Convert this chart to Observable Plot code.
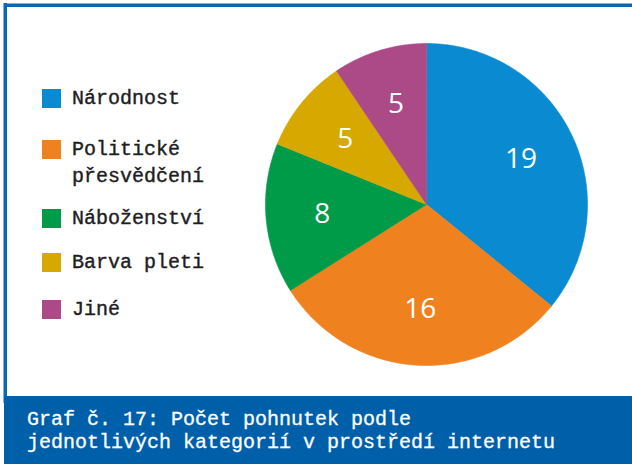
<!DOCTYPE html>
<html>
<head>
<meta charset="utf-8">
<script src="https://cdn.jsdelivr.net/npm/d3@7"></script>
<script src="https://cdn.jsdelivr.net/npm/@observablehq/plot@0.6"></script>
<style>
  html, body { margin: 0; padding: 0; background: #fff; }
  #wrap { position: relative; width: 632px; height: 464px; overflow: hidden; background: #fff; }
  #topline { position: absolute; left: 4px; top: 3px; width: 628px; height: 4px; background: #0b67b4; border-top: 1px solid #7fb1dc; box-sizing: border-box; }
  #leftline { position: absolute; left: 3px; top: 3px; width: 4px; height: 400px; background: #0b67b4; border-left: 1px solid #7fb1dc; box-sizing: border-box; }
  #chart { position: absolute; left: 0; top: 0; }
  #legend { position: absolute; left: 0; top: 0; font-family: "Liberation Mono", monospace; font-size: 20px; color: #1e1e1e; -webkit-text-stroke: 0.4px #1e1e1e; }
  .item { position: absolute; left: 42px; }
  .sw { position: absolute; left: 0; width: 19px; height: 19px; }
  .lab { position: absolute; left: 30px; white-space: pre; line-height: 27px; }
  #band { position: absolute; left: 4px; top: 396px; width: 628px; height: 68px; background: #005fa9; }
  #caption { position: absolute; left: 27px; top: 408px; font-family: "Liberation Mono", monospace; font-size: 20px; line-height: 23px; color: #fff; white-space: pre; -webkit-text-stroke: 0.3px #fff; }
</style>
</head>
<body>
<div id="wrap">
  <div id="topline"></div>
  <div id="leftline"></div>
  <div id="band"></div>
  <div id="caption"></div>
  <div id="legend"></div>
  <div id="chart"></div>
</div>
<script>
const categories = ["Národnost", "Politické přesvědčení", "Náboženství", "Barva pleti", "Jiné"];
const legendLabels = ["Národnost", "Politické\npřesvědčení", "Náboženství", "Barva pleti", "Jiné"];
const values = [19, 16, 8, 5, 5];
const colors = ["#0a8bd1", "#ef821f", "#009b48", "#d6a800", "#ab4a86"];
const captionText = "Graf č. 17: Počet pohnutek podle\njednotlivých kategorií v prostředí internetu";

// pie geometry in unit coordinates (angle clockwise from top)
const pie = d3.pie().sort(null).value(d => d.value);
const arcs = pie(categories.map((c, i) => ({cat: c, value: values[i]})));
const poly = [];
const labels = [];
for (const a of arcs) {
  poly.push({cat: a.data.cat, x: 0, y: 0});
  const n = Math.max(2, Math.ceil((a.endAngle - a.startAngle) / 0.01));
  for (let k = 0; k <= n; k++) {
    const t = a.startAngle + (a.endAngle - a.startAngle) * k / n;
    poly.push({cat: a.data.cat, x: Math.sin(t), y: Math.cos(t)});
  }
  const m = (a.startAngle + a.endAngle) / 2;
  labels.push({cat: a.data.cat, value: a.data.value, x: 0.65 * Math.sin(m), y: 0.65 * Math.cos(m)});
}

const plot = Plot.plot({
  width: 632,
  height: 396,
  margin: 0,
  x: {domain: [-1, 1], range: [265, 587], axis: null},
  y: {domain: [-1, 1], range: [365, 43], axis: null},
  color: {domain: categories, range: colors},
  marks: [
    Plot.line(poly, {x: "x", y: "y", z: "cat", fill: "cat", stroke: "cat", strokeWidth: 0.6, curve: "linear-closed"}),
    Plot.text(labels, {x: "x", y: "y", text: d => String(d.value), fill: "white", fontSize: 28, fontFamily: "Open Sans", textAnchor: "middle", lineAnchor: "middle"})
  ]
});
document.getElementById("chart").appendChild(plot);

// legend (HTML, colors from the plot's color scale)
const color = plot.scale("color");
const rowTops = [89, 140, 209, 253, 300];
const legend = document.getElementById("legend");
categories.forEach((c, i) => {
  const item = document.createElement("div");
  item.className = "item";
  item.style.top = rowTops[i] + "px";
  const sw = document.createElement("div");
  sw.className = "sw";
  sw.style.background = color.apply(c);
  const lab = document.createElement("div");
  lab.className = "lab";
  lab.style.top = "-4px";
  lab.textContent = legendLabels[i];
  item.appendChild(sw);
  item.appendChild(lab);
  legend.appendChild(item);
});
document.getElementById("caption").textContent = captionText;
</script>
</body>
</html>
